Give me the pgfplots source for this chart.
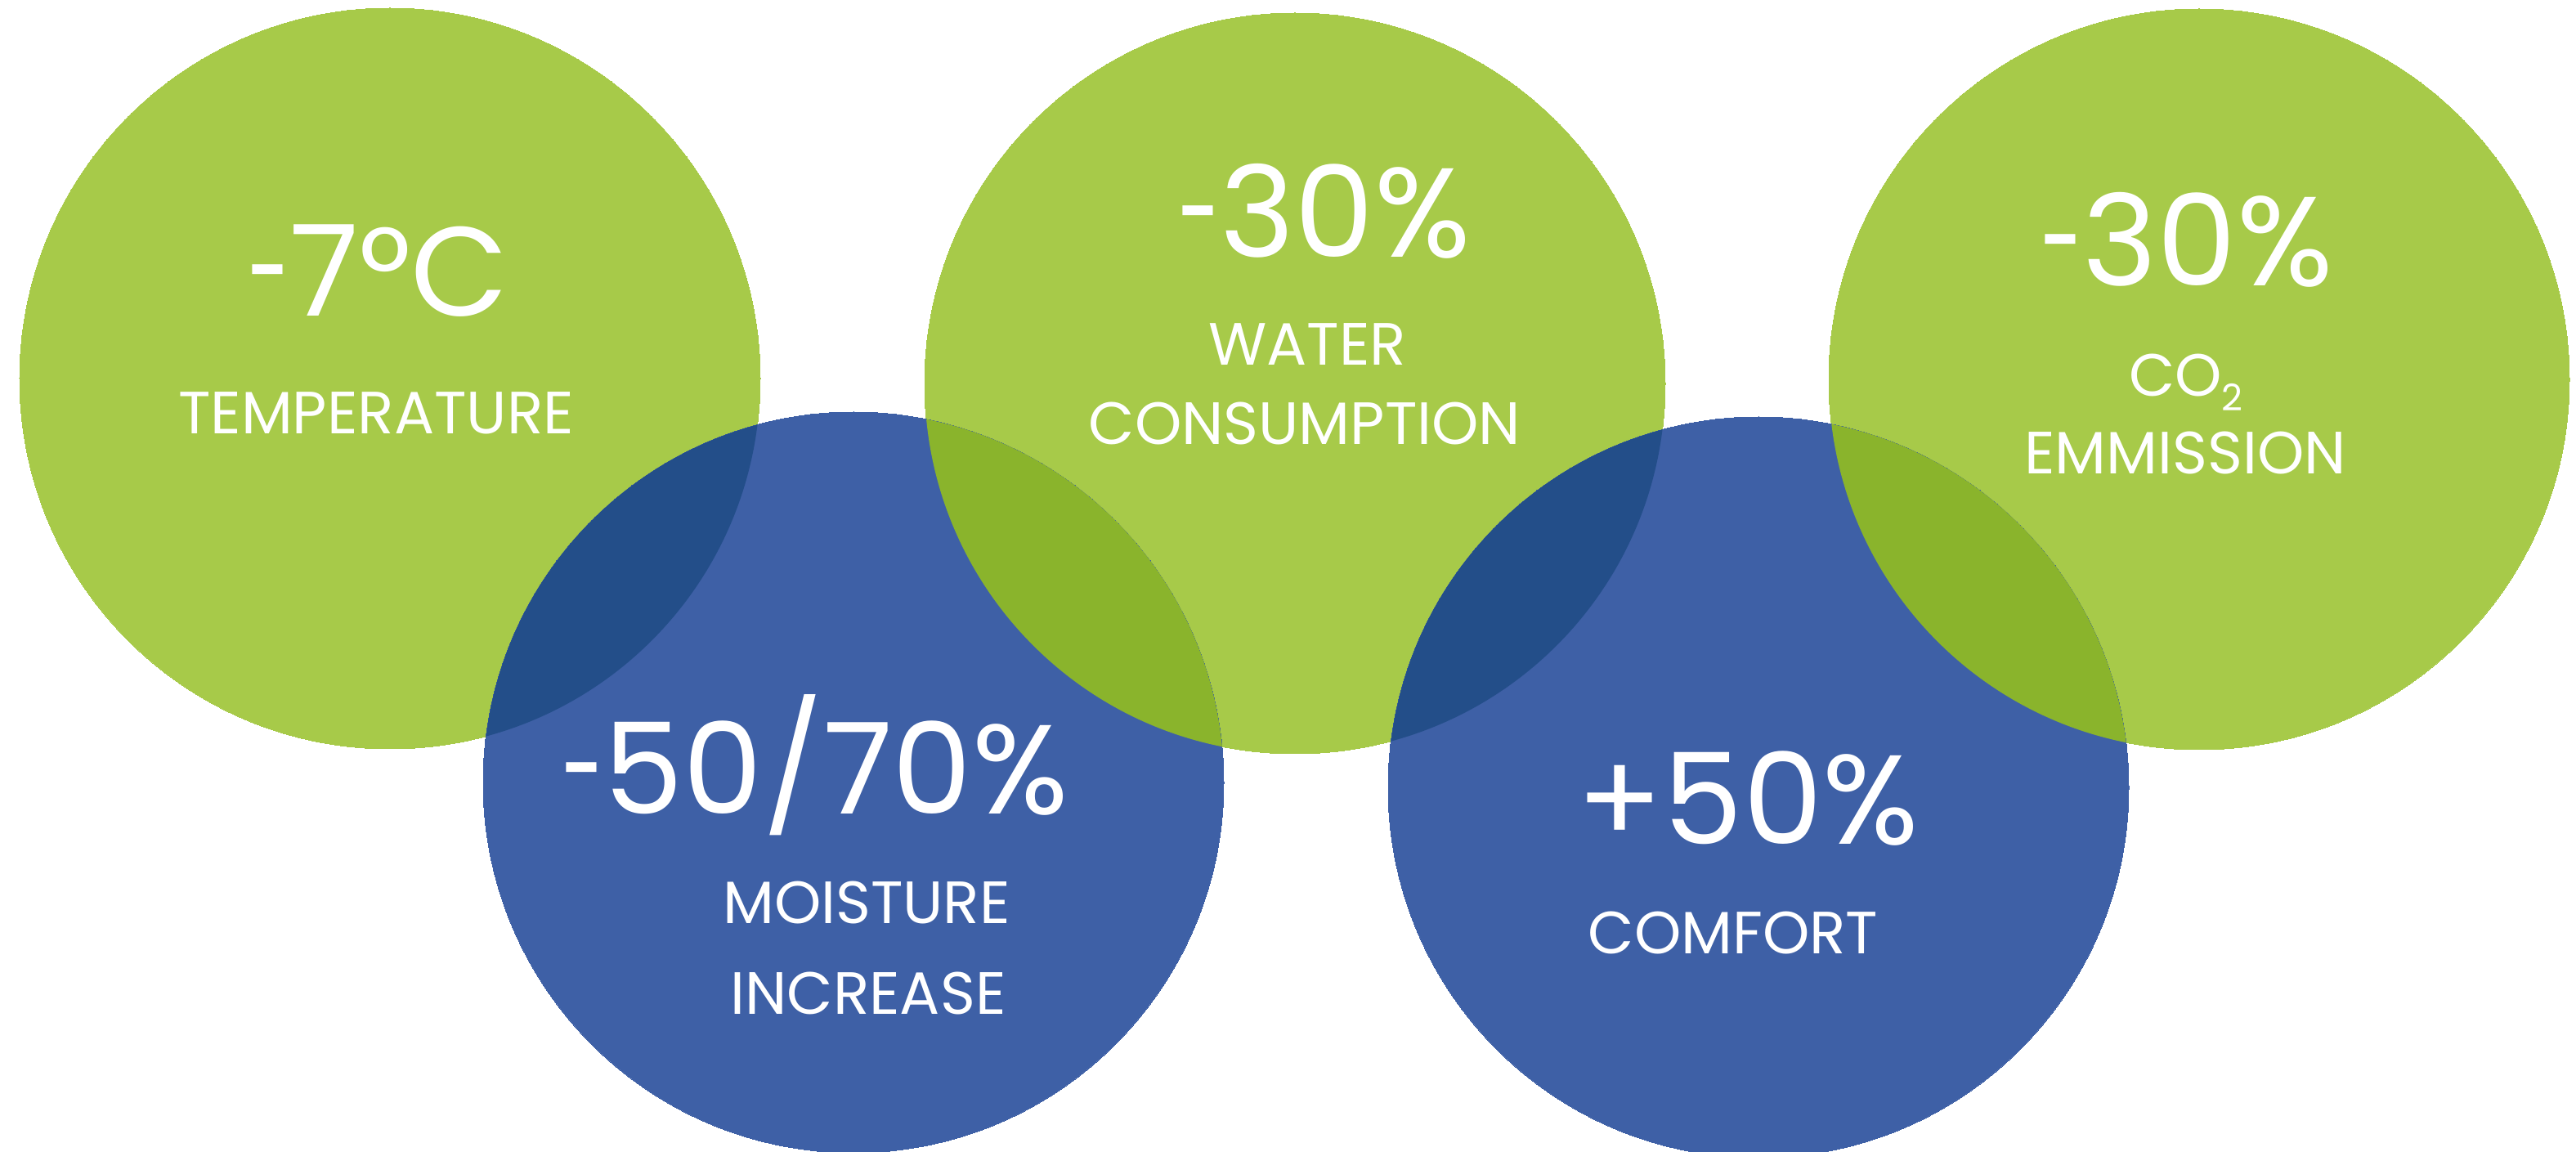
\documentclass[border=0pt]{standalone}
\usepackage{pgfplots}
\pgfplotsset{compat=1.18}
\usepackage{fontspec}
\setmainfont{Poppins}
\definecolor{grn}{HTML}{A7CA49}
\definecolor{blu}{HTML}{3E60A6}
\definecolor{dblu}{HTML}{234E89}
\definecolor{dgrn}{HTML}{8AB42C}
\newcommand{\bignum}{\fontsize{31}{34}\selectfont}
\newcommand{\lab}{\fontsize{14.6}{16}\selectfont}
\newcommand{\hy}{\scalebox{0.6}[1]{-}}
\begin{document}
\begin{tikzpicture}
\begin{axis}[scale only axis, width=630.2pt, height=281.6pt,
  xmin=0, xmax=3151, ymin=0, ymax=1408, hide axis, clip marker paths=true]
% green circles (centre x, centre y in px of the 3151x1408 picture, y upward)
\addplot[color=grn, only marks, mark=*, mark size=90.6pt, mark options={draw=none, fill=grn, line width=0pt}] table {
x y
477 945
1584 939
2690 944
};
% blue circles
\addplot[color=blu, only marks, mark=*, mark size=90.6pt, mark options={draw=none, fill=blu, line width=0pt}] table {
x y
1044 451
2151 445
};
% overlaps
\begin{scope}
\clip (axis cs:477,945) circle[radius=90.6pt];
\fill[dblu] (axis cs:1044,451) circle[radius=90.6pt];
\end{scope}
\begin{scope}
\clip (axis cs:1584,939) circle[radius=90.6pt];
\fill[dgrn] (axis cs:1044,451) circle[radius=90.6pt];
\end{scope}
\begin{scope}
\clip (axis cs:1584,939) circle[radius=90.6pt];
\fill[dblu] (axis cs:2151,445) circle[radius=90.6pt];
\end{scope}
\begin{scope}
\clip (axis cs:2690,944) circle[radius=90.6pt];
\fill[dgrn] (axis cs:2151,445) circle[radius=90.6pt];
\end{scope}
% texts
\node[anchor=base, text=white, font=\bignum] at (axis cs:463,1021) {\hy7°C};
\node[anchor=base, text=white, font=\lab] at (axis cs:460,877) {TEMPERATURE};
\node[anchor=base, text=white, font=\bignum] at (axis cs:1620,1093) {\hy30\%};
\node[anchor=base, text=white, font=\lab] at (axis cs:1599,961) {WATER};
\node[anchor=base, text=white, font=\lab] at (axis cs:1596,864) {CONSUMPTION};
\node[anchor=base, text=white, font=\bignum] at (axis cs:2675,1058) {\hy30\%};
\node[anchor=base, text=white, font=\lab] at (axis cs:2674,923) {CO\raisebox{-0.45ex}{\fontsize{9}{9}\selectfont 2}};
\node[anchor=base, text=white, font=\lab] at (axis cs:2673,828) {EMMISSION};
\node[anchor=base, text=white, font=\bignum] at (axis cs:997,412) {\hy50/70\%};
\node[anchor=base, text=white, font=\lab] at (axis cs:1060,279) {MOISTURE};
\node[anchor=base, text=white, font=\lab] at (axis cs:1062,167) {INCREASE};
\node[anchor=base, text=white, font=\bignum] at (axis cs:2138,375) {+50\%};
\node[anchor=base, text=white, font=\lab] at (axis cs:2120,241) {COMFORT};
\end{axis}
\pgfresetboundingbox
\path (current axis.south west) rectangle (current axis.north east);
\end{tikzpicture}
\end{document}
